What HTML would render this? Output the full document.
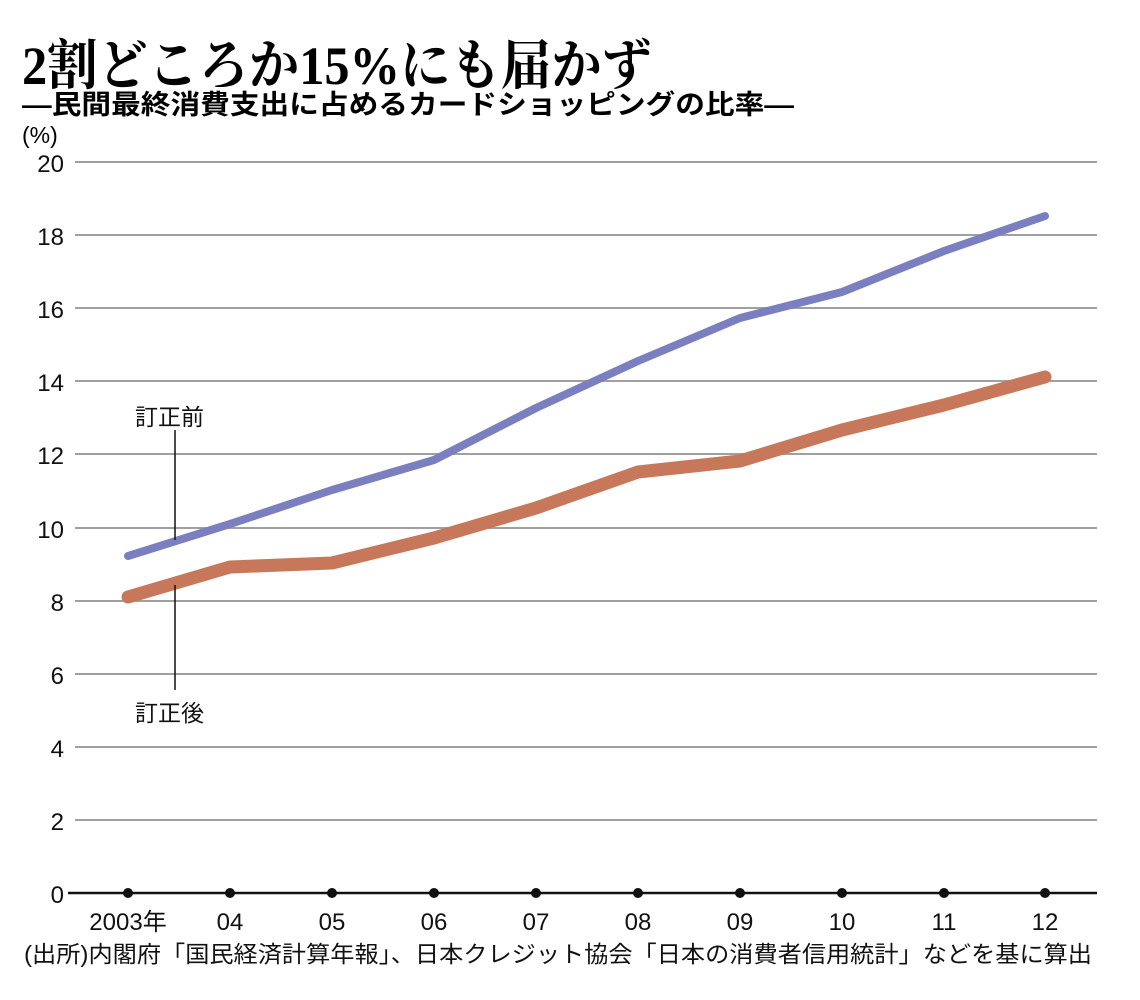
<!DOCTYPE html>
<html><head><meta charset="utf-8"><style>
html,body{margin:0;padding:0;background:#fff;}
svg{display:block;}
</style></head><body>
<svg width="1140" height="1000" xmlns="http://www.w3.org/2000/svg">
<text x="22" y="84" font-family="'Liberation Serif','Noto Serif CJK SC',serif" font-weight="bold" font-size="54" textLength="630" lengthAdjust="spacingAndGlyphs">2割どころか15%にも届かず</text>
<text x="22" y="114" font-family="'Liberation Sans','Noto Sans CJK JP',sans-serif" font-weight="bold" font-size="27" textLength="772" lengthAdjust="spacingAndGlyphs">—民間最終消費支出に占めるカードショッピングの比率—</text>
<text x="22" y="143" font-family="'Liberation Sans','Noto Sans CJK JP',sans-serif" font-size="23">(%)</text>
<g stroke="#a0a0a0" stroke-width="2">
<line x1="75" x2="1097" y1="162" y2="162"/><line x1="75" x2="1097" y1="235" y2="235"/>
<line x1="75" x2="1097" y1="308" y2="308"/><line x1="75" x2="1097" y1="381" y2="381"/>
<line x1="75" x2="1097" y1="454" y2="454"/><line x1="75" x2="1097" y1="528" y2="528"/>
<line x1="75" x2="1097" y1="601" y2="601"/><line x1="75" x2="1097" y1="674" y2="674"/>
<line x1="75" x2="1097" y1="747" y2="747"/><line x1="75" x2="1097" y1="820" y2="820"/>
</g>
<line x1="68" x2="1097" y1="893" y2="893" stroke="#111" stroke-width="2.5"/>
<g font-family="'Liberation Sans',sans-serif" font-size="24" text-anchor="end" fill="#111">
<text x="64" y="172">20</text><text x="64" y="245">18</text><text x="64" y="318">16</text>
<text x="64" y="391">14</text><text x="64" y="464">12</text><text x="64" y="538">10</text>
<text x="64" y="611">8</text><text x="64" y="684">6</text><text x="64" y="757">4</text>
<text x="64" y="830">2</text><text x="64" y="903">0</text>
</g>
<g fill="#111">
<circle cx="128" cy="893" r="5"/><circle cx="230" cy="893" r="5"/><circle cx="332" cy="893" r="5"/>
<circle cx="434" cy="893" r="5"/><circle cx="536" cy="893" r="5"/><circle cx="638" cy="893" r="5"/>
<circle cx="740" cy="893" r="5"/><circle cx="842" cy="893" r="5"/><circle cx="944" cy="893" r="5"/>
<circle cx="1045" cy="893" r="5"/>
</g>
<g font-family="'Liberation Sans','Noto Sans CJK JP',sans-serif" font-size="24" text-anchor="middle" fill="#111">
<text x="128" y="930">2003年</text><text x="230" y="930">04</text><text x="332" y="930">05</text>
<text x="434" y="930">06</text><text x="536" y="930">07</text><text x="638" y="930">08</text>
<text x="740" y="930">09</text><text x="842" y="930">10</text><text x="944" y="930">11</text>
<text x="1045" y="930">12</text>
</g>
<text x="24" y="962" font-family="'Liberation Sans','Noto Sans CJK JP',sans-serif" font-size="23" fill="#111" textLength="1068" lengthAdjust="spacingAndGlyphs">(出所)内閣府「国民経済計算年報」、日本クレジット協会「日本の消費者信用統計」などを基に算出</text>
<polyline fill="none" stroke="#7b7fc0" stroke-width="8" stroke-linejoin="round" stroke-linecap="round"
 points="128,556 230,524 332,490 434,460 536,408 638,361 740,318 842,292 944,251 1045,216"/>
<polyline fill="none" stroke="#c8785a" stroke-width="13" stroke-linejoin="round" stroke-linecap="round"
 points="128,597 230,567 332,563 434,538 536,508 638,472 740,461 842,430 944,405 1045,377"/>
<line x1="175" y1="430" x2="175" y2="540" stroke="#111" stroke-width="1.5"/>
<line x1="175" y1="585" x2="175" y2="690" stroke="#111" stroke-width="1.5"/>
<g font-family="'Liberation Sans','Noto Sans CJK JP',sans-serif" font-size="23" fill="#111">
<text x="135" y="425">訂正前</text>
<text x="135" y="721">訂正後</text>
</g>
</svg>
</body></html>
